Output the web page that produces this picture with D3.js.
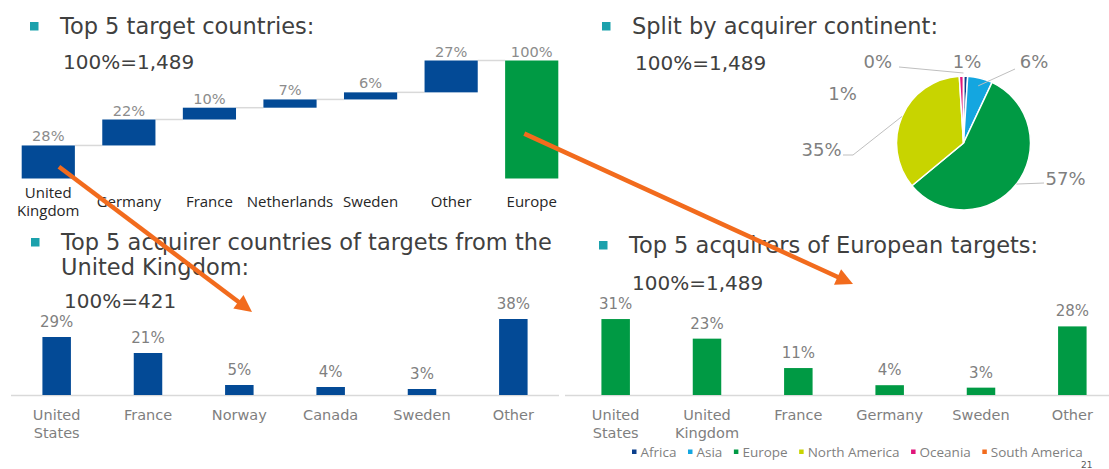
<!DOCTYPE html>
<html lang="en">
<head>
<meta charset="utf-8">
<title>M&A targets and acquirers</title>
<script src="https://d3js.org/d3.v7.min.js"></script>
<style>
  body { margin: 0; background: #fff; }
  text { font-family: "DejaVu Sans", Verdana, sans-serif; }
</style>
</head>
<body>
<script>
// data
var targetCountries = ["United Kingdom", "Germany", "France", "Netherlands", "Sweden", "Other", "Europe"];
var targetShares = [28, 22, 10, 7, 6, 27, 100];
var targetLabels = [["United", "Kingdom"], ["Germany"], ["France"], ["Netherlands"], ["Sweden"], ["Other"], ["Europe"]];

var continents = ["Africa", "Asia", "Europe", "North America", "Oceania", "South America"];
var continentShares = [1, 6, 57, 35, 1, 0];

var ukAcquirers = ["United States", "France", "Norway", "Canada", "Sweden", "Other"];
var ukShares = [29, 21, 5, 4, 3, 38];
var ukLabels = [["United", "States"], ["France"], ["Norway"], ["Canada"], ["Sweden"], ["Other"]];

var euAcquirers = ["United States", "United Kingdom", "France", "Germany", "Sweden", "Other"];
var euShares = [31, 23, 11, 4, 3, 28];
var euLabels = [["United", "States"], ["United", "Kingdom"], ["France"], ["Germany"], ["Sweden"], ["Other"]];

// colours
var blue = "#034a96", green = "#009a44", teal = "#1ba1ac";
var continentColors = ["#0b3f8c", "#14a6e0", "#009a44", "#c8d400", "#e0157a", "#f26b1d"];

var w = 1109, h = 469;
var svg = d3.select("body").append("svg").attr("width", w).attr("height", h);

// section headings
function heading(x, y, lines, total, totalY) {
  svg.append("rect").attr("x", x - 30).attr("y", y - 12).attr("width", 8.5).attr("height", 8.5).attr("fill", teal);
  lines.forEach(function(t, i) {
    svg.append("text").attr("x", x).attr("y", y + i * 24.5).attr("font-size", "22.5px")
      .attr("fill", "#404040").text(t);
  });
  svg.append("text").attr("x", x + 3).attr("y", totalY).attr("font-size", "20px")
    .attr("fill", "#404040").text(total);
}
heading(60, 34, ["Top 5 target countries:"], "100%=1,489", 69);
heading(632, 34, ["Split by acquirer continent:"], "100%=1,489", 70);
heading(61, 250, ["Top 5 acquirer countries of targets from the", "United Kingdom:"], "100%=421", 308);
heading(629, 253, ["Top 5 acquirers of European targets:"], "100%=1,489", 290);

// waterfall
var wfX = d3.scaleBand().domain(targetCountries).range([8, 572]).paddingInner(0.34).paddingOuter(0.17);
var wfY = d3.scaleLinear().domain([0, 100]).range([178.5, 60.5]);
var wfData = [];
var run = 0;
targetCountries.forEach(function(c, i) {
  var last = i === targetCountries.length - 1;
  var start = last ? 0 : run;
  var end = last ? targetShares[i] : run + targetShares[i];
  wfData.push({ name: c, value: targetShares[i], start: start, end: end, total: last, label: targetLabels[i] });
  if (!last) run = end;
});

var wf = svg.append("g");
wf.selectAll("line.conn").data(wfData.slice(0, -1)).enter().append("line")
  .attr("x1", function(d) { return wfX(d.name) + wfX.bandwidth(); })
  .attr("x2", function(d, i) { return wfX(wfData[i + 1].name); })
  .attr("y1", function(d) { return wfY(d.end); })
  .attr("y2", function(d) { return wfY(d.end); })
  .attr("stroke", "#d9d9d9").attr("stroke-width", 1.5);
wf.selectAll("rect").data(wfData).enter().append("rect")
  .attr("x", function(d) { return wfX(d.name); })
  .attr("y", function(d) { return wfY(d.end); })
  .attr("width", wfX.bandwidth())
  .attr("height", function(d) { return wfY(d.start) - wfY(d.end); })
  .attr("fill", function(d) { return d.total ? green : blue; });
wf.selectAll("text.val").data(wfData).enter().append("text")
  .attr("x", function(d) { return wfX(d.name) + wfX.bandwidth() / 2; })
  .attr("y", function(d) { return wfY(d.end) - 4; })
  .attr("text-anchor", "middle").attr("font-size", "14.6px").attr("fill", "#8c8c8c")
  .text(function(d) { return d.value + "%"; });
wfData.forEach(function(d) {
  var n = d.label.length;
  d.label.forEach(function(t, j) {
    wf.append("text")
      .attr("x", wfX(d.name) + wfX.bandwidth() / 2)
      .attr("y", 207 + (j - (n - 1) / 2) * 18.5)
      .attr("text-anchor", "middle").attr("font-size", "15px").attr("fill", "#262626")
      .style("font-family", "'Open Sans', sans-serif")
      .text(t);
  });
});

// pie
var pieC = [963.5, 143], pieR = 67;
var pie = d3.pie().sort(null).value(function(d) { return d.value; });
var arcs = pie(continents.map(function(c, i) { return { name: c, value: continentShares[i], color: continentColors[i] }; }));
var arc = d3.arc().innerRadius(0).outerRadius(pieR);
var pg = svg.append("g").attr("transform", "translate(" + pieC + ")");
pg.selectAll("path").data(arcs).enter().append("path")
  .attr("d", arc).attr("fill", function(d) { return d.data.color; })
  .attr("stroke", "#fff").attr("stroke-width", 1.5);

function polar(a, r) { return [Math.sin(a) * r, -Math.cos(a) * r]; }
// label placement: text anchor point, alignment and leader start, relative to pie centre
var pieLabelLayout = {
  "Africa":        { at: [3.5, -75], anchor: "middle" },
  "Asia":          { at: [70.5, -75], anchor: "middle", leader: [[51.5, -74]], r: pieR - 8 },
  "Europe":        { at: [82, 42], anchor: "start", leader: [[80.5, 40]], r: pieR },
  "North America": { at: [-122, 13], anchor: "end", leader: [[-120.5, 12], [-110.5, 12]], r: pieR },
  "Oceania":       { at: [-121, -43], anchor: "middle" },
  "South America": { at: [-71.5, -75], anchor: "end", leader: [[-64.5, -76]], r: pieR + 3 }
};
arcs.forEach(function(d) {
  var L = pieLabelLayout[d.data.name];
  if (L.leader) {
    var mid = (d.startAngle + d.endAngle) / 2;
    var pts = L.leader.concat([polar(mid, L.r)]);
    pg.append("path").attr("d", d3.line()(pts)).attr("fill", "none")
      .attr("stroke", "#bfbfbf").attr("stroke-width", 1);
  }
  pg.append("text").attr("x", L.at[0]).attr("y", L.at[1]).attr("text-anchor", L.anchor)
    .attr("font-size", "18px").attr("fill", "#7f7f7f")
    .text(d.data.value + "%");
});

// simple bar charts
function barChart(names, values, labels, range, axisExtent, maxV, plotH, color) {
  var x = d3.scaleBand().domain(names).range(range).paddingInner(0.688).paddingOuter(0.344);
  var y = d3.scaleLinear().domain([0, maxV]).range([395, 395 - plotH]);
  var g = svg.append("g");
  g.append("line").attr("x1", axisExtent[0]).attr("x2", axisExtent[1]).attr("y1", 395.5).attr("y2", 395.5)
    .attr("stroke", "#d9d9d9").attr("stroke-width", 1.5);
  var data = names.map(function(n, i) { return { name: n, value: values[i], label: labels[i] }; });
  g.selectAll("rect").data(data).enter().append("rect")
    .attr("x", function(d) { return x(d.name); })
    .attr("y", function(d) { return y(d.value); })
    .attr("width", x.bandwidth())
    .attr("height", function(d) { return y(0) - y(d.value); })
    .attr("fill", color);
  g.selectAll("text.val").data(data).enter().append("text")
    .attr("x", function(d) { return x(d.name) + x.bandwidth() / 2; })
    .attr("y", function(d) { return y(d.value) - 10; })
    .attr("text-anchor", "middle").attr("font-size", "15px").attr("fill", "#7f7f7f")
    .text(function(d) { return d.value + "%"; });
  data.forEach(function(d) {
    d.label.forEach(function(t, j) {
      g.append("text").attr("x", x(d.name) + x.bandwidth() / 2).attr("y", 420 + j * 18)
        .attr("text-anchor", "middle").attr("font-size", "14.5px").attr("fill", "#7f7f7f")
        .text(t);
    });
  });
}
barChart(ukAcquirers, ukShares, ukLabels, [11, 559], [11, 559], 40, 80, blue);
barChart(euAcquirers, euShares, euLabels, [570, 1118], [565, 1109], 35, 85.75, green);

// legend for the pie
var lg = svg.append("g");
var lx = 632;
continents.forEach(function(c, i) {
  lg.append("rect").attr("x", lx).attr("y", 449.5).attr("width", 4.5).attr("height", 4.5).attr("fill", continentColors[i]);
  var t = lg.append("text").attr("x", lx + 8.5).attr("y", 457).attr("font-size", "13.5px").attr("fill", "#7f7f7f")
    .style("font-family", "'Open Sans', sans-serif").text(c);
  lx += 8.5 + t.node().getComputedTextLength() + 11.5;
});

// page number in the bottom corner
svg.append("text").attr("x", 1081).attr("y", 467.5).attr("font-size", "9px").attr("fill", "#595959").text("21");

// orange arrows linking the panels
var arrows = [
  { from: [wfX("United Kingdom") + wfX.bandwidth() * 0.7, wfY(10)], to: [252, 312] },
  { from: [wfX("Europe") + wfX.bandwidth() * 0.36, wfY(38)], to: [853, 284] }
];
arrows.forEach(function(a) {
  var dx = a.to[0] - a.from[0], dy = a.to[1] - a.from[1];
  var len = Math.sqrt(dx * dx + dy * dy), ux = dx / len, uy = dy / len;
  var hl = 17, hw = 8.5;
  var bx = a.to[0] - ux * hl, by = a.to[1] - uy * hl;
  svg.append("line").attr("x1", a.from[0]).attr("y1", a.from[1]).attr("x2", bx + ux * 2).attr("y2", by + uy * 2)
    .attr("stroke", "#f26b1d").attr("stroke-width", 4.5);
  svg.append("path")
    .attr("d", d3.line()([[a.to[0], a.to[1]], [bx - uy * hw, by + ux * hw], [bx + uy * hw, by - ux * hw]]) + "Z")
    .attr("fill", "#f26b1d");
});
</script>
</body>
</html>
